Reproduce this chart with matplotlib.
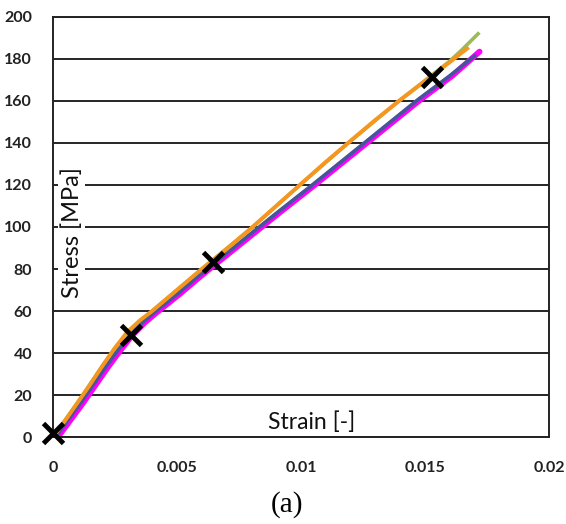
import matplotlib.pyplot as plt

plt.rcParams['font.family'] = ['Lato', 'DejaVu Sans']

# stress-strain curves
orange_x = [0, 0.0005, 0.001, 0.0015, 0.002, 0.0025, 0.003, 0.0035, 0.004, 0.005, 0.006,
            0.007, 0.008, 0.009, 0.010, 0.011, 0.012, 0.013, 0.014, 0.015, 0.016, 0.0167]
orange_y = [0, 8, 16.5, 25, 34, 42.5, 50, 55.5, 60, 70, 80,
            89.5, 99.5, 110, 120.5, 131, 141, 151, 160.5, 169.5, 178.5, 185]

green_x = [0, 0.001, 0.002, 0.003, 0.004, 0.006, 0.008, 0.010, 0.012, 0.014, 0.016, 0.0165, 0.01714]
green_y = [0, 16.5, 34, 50, 60, 80, 99.5, 120.5, 141, 160.5, 179, 184.5, 192]

magenta_x = [0.0002, 0.0007, 0.0012, 0.0017, 0.0022, 0.0027, 0.0032, 0.0037, 0.0042, 0.0051, 0.0061,
             0.0071, 0.0081, 0.0091, 0.0105, 0.0126, 0.0148, 0.0161, 0.0172]
magenta_y = [0, 8, 16, 24.5, 33, 41, 48.5, 54.5, 59.5, 68, 78,
             87.5, 97, 106.5, 119.5, 139.5, 160.5, 172, 183.5]

blue_x = [0.0001, 0.0006, 0.0011, 0.0016, 0.0021, 0.0026, 0.0031, 0.0036, 0.0041, 0.005, 0.006,
          0.007, 0.008, 0.009, 0.0104, 0.0125, 0.0147, 0.016, 0.017]
blue_y = [0, 8, 16, 24.5, 33, 41, 48.5, 54.5, 59.5, 68, 78,
          87.5, 97, 106.5, 119.5, 139.5, 160.5, 172, 181.5]

mark_x = [0, 0.00315, 0.00645, 0.01528]
mark_y = [2, 48.5, 83.5, 171.5]

fig = plt.figure(figsize=(5.66, 5.24), dpi=100)
ax = fig.add_axes([0.0936, 0.166, 0.8764, 0.8016])

ax.plot(magenta_x, magenta_y, color='#ff00ff', lw=4.2, solid_capstyle='round', zorder=2)
ax.plot(blue_x, blue_y, color='#44559a', lw=2.6, zorder=3)
ax.plot(green_x, green_y, color='#9bbb59', lw=2.6, zorder=2)
ax.plot(orange_x, orange_y, color='#f7961e', lw=2.8, zorder=4)
ax.plot(mark_x, mark_y, 'x', color='black', ms=15, mew=3.5, zorder=5, clip_on=False)

ax.set_xlim(0, 0.02)
ax.set_ylim(0, 200)
ax.set_xticks([0, 0.005, 0.01, 0.015, 0.02])
ax.set_xticklabels(['0', '0.005', '0.01', '0.015', '0.02'])
ax.set_yticks(range(0, 201, 20))
ax.tick_params(length=0, labelsize=11.5, colors='#222222')
ax.tick_params(axis='x', pad=17)
ax.tick_params(axis='y', pad=15)
for lab in ax.get_xticklabels() + ax.get_yticklabels():
    lab.set_fontweight('bold')
ax.grid(axis='y', color='black', lw=1.2)
ax.set_axisbelow(True)
for s in ax.spines.values():
    s.set_color('#222222')
    s.set_linewidth(1.4)

ax.text(0.522, 0.036, 'Strain [-]', transform=ax.transAxes, fontsize=16.5,
        ha='center', va='center', color='#111111')
ax.text(0.038, 0.486, 'Stress [MPa]', transform=ax.transAxes, fontsize=17,
        rotation=90, ha='center', va='center', color='#111111',
        bbox=dict(facecolor='white', edgecolor='none', pad=2), zorder=6)

fig.text(0.507, 0.038, '(a)', fontsize=21, family='Liberation Serif',
         ha='center', va='center')

fig.savefig('out.png', dpi=100)
